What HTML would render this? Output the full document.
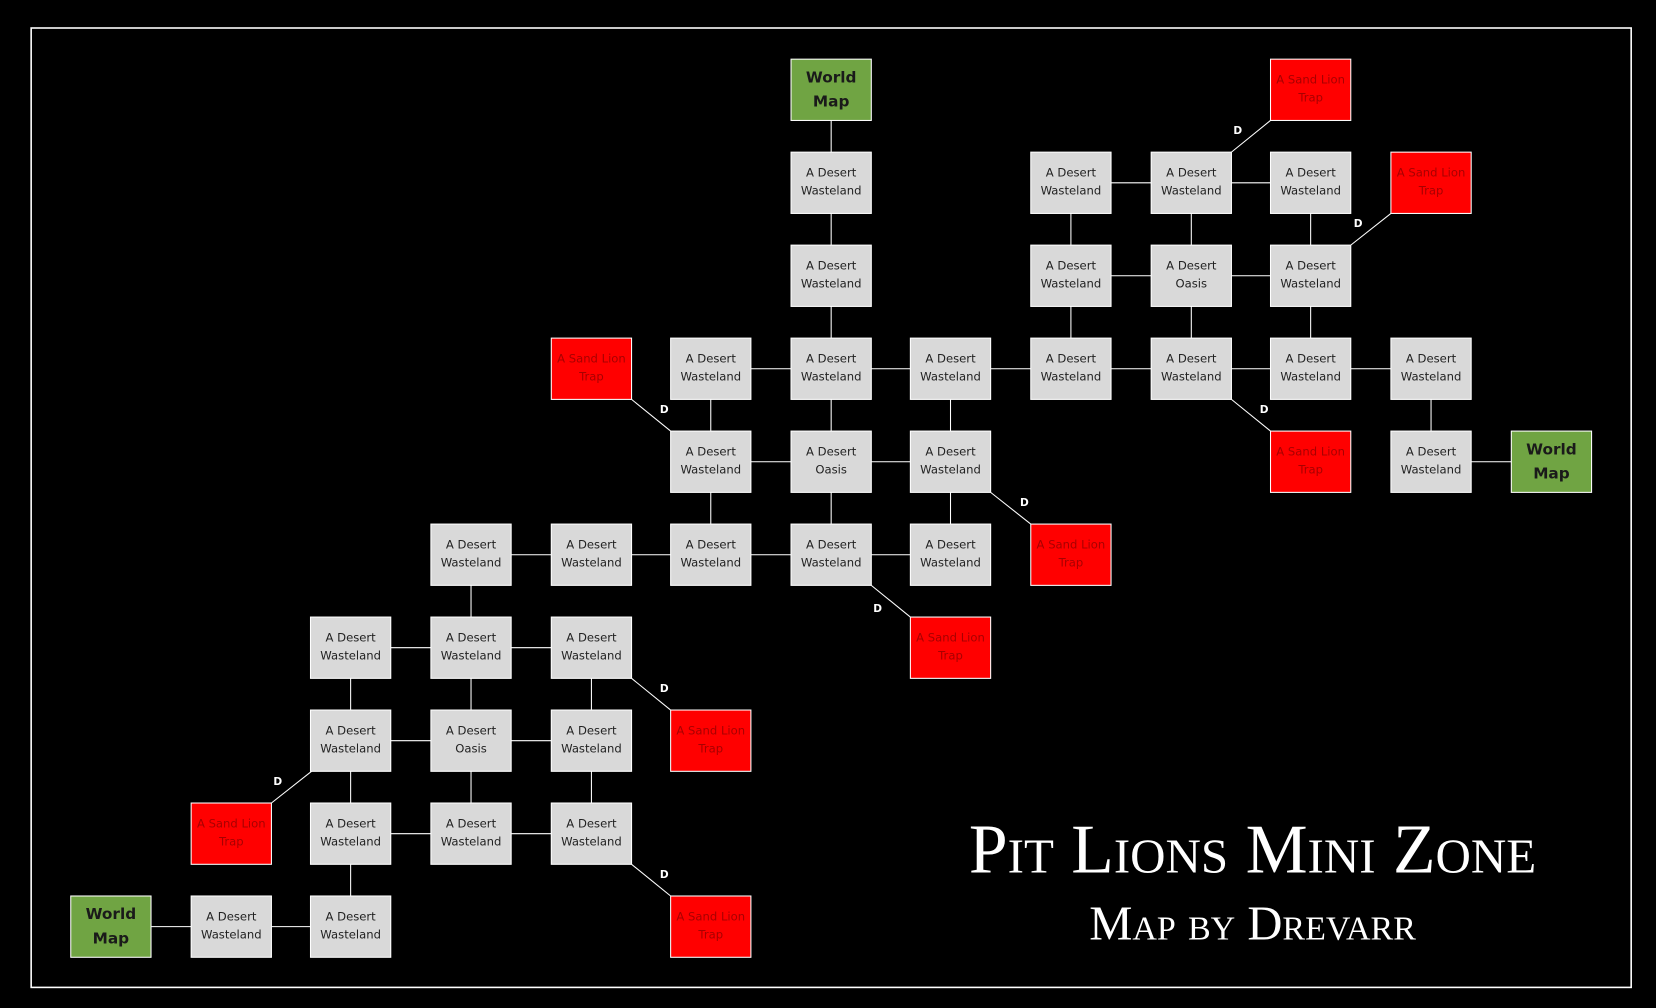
<!DOCTYPE html>
<html><head><meta charset="utf-8"><style>
html,body{margin:0;padding:0;background:#000;}
svg{display:block;}
.g rect{fill:#d9d9d9;stroke:#fff;stroke-width:1}
.t rect{fill:#ff0000;stroke:#fff;stroke-width:1}
.w rect{fill:#70a443;stroke:#fff;stroke-width:1}
text{font-family:"DejaVu Sans","Liberation Sans",sans-serif;text-anchor:middle}
.g text{font-size:11px;fill:#222}
.t text{font-size:11px;fill:#a80000}
.w text{font-size:14.5px;font-weight:bold;fill:#1a1a1a}
.d{font-size:10px;font-weight:bold;fill:#fff}
line{stroke:#fff;stroke-width:1}
</style></head><body>
<svg width="1656" height="1008" viewBox="0 0 1568 954" preserveAspectRatio="none" xmlns="http://www.w3.org/2000/svg">
<rect x="0" y="0" width="1568" height="954" fill="#000"/>
<rect x="29.5" y="26.5" width="1515" height="908" fill="none" stroke="#fff" stroke-width="1.5"/>
<line x1="787" y1="85" x2="787" y2="525"/>
<line x1="1014" y1="173" x2="1014" y2="349"/>
<line x1="1128" y1="173" x2="1128" y2="349"/>
<line x1="1241" y1="173" x2="1241" y2="349"/>
<line x1="673" y1="349" x2="673" y2="525"/>
<line x1="900" y1="349" x2="900" y2="525"/>
<line x1="1355" y1="349" x2="1355" y2="437"/>
<line x1="446" y1="525" x2="446" y2="789"/>
<line x1="332" y1="613" x2="332" y2="877"/>
<line x1="560" y1="613" x2="560" y2="789"/>
<line x1="1014" y1="173" x2="1241" y2="173"/>
<line x1="1014" y1="261" x2="1241" y2="261"/>
<line x1="673" y1="349" x2="1355" y2="349"/>
<line x1="673" y1="437" x2="900" y2="437"/>
<line x1="1355" y1="437" x2="1469" y2="437"/>
<line x1="446" y1="525" x2="900" y2="525"/>
<line x1="332" y1="613" x2="560" y2="613"/>
<line x1="332" y1="701" x2="560" y2="701"/>
<line x1="332" y1="789" x2="560" y2="789"/>
<line x1="105" y1="877" x2="332" y2="877"/>
<line x1="1166" y1="144" x2="1203" y2="114"/>
<line x1="1279" y1="232" x2="1317" y2="202"/>
<line x1="1166" y1="378" x2="1203" y2="408"/>
<line x1="598" y1="378" x2="635" y2="408"/>
<line x1="938" y1="466" x2="976" y2="496"/>
<line x1="825" y1="554" x2="862" y2="584"/>
<line x1="598" y1="642" x2="635" y2="672"/>
<line x1="295" y1="730" x2="257" y2="760"/>
<line x1="598" y1="818" x2="635" y2="848"/>
<text class="d" x="1172" y="127">D</text>
<text class="d" x="1286" y="215">D</text>
<text class="d" x="1197" y="391">D</text>
<text class="d" x="629" y="391">D</text>
<text class="d" x="970" y="479">D</text>
<text class="d" x="831" y="579">D</text>
<text class="d" x="629" y="655">D</text>
<text class="d" x="263" y="743">D</text>
<text class="d" x="629" y="831">D</text>
<g class="g">
<rect x="749" y="144" width="76" height="58"/><text x="787" y="167">A Desert</text><text x="787" y="184">Wasteland</text>
<rect x="976" y="144" width="76" height="58"/><text x="1014" y="167">A Desert</text><text x="1014" y="184">Wasteland</text>
<rect x="1090" y="144" width="76" height="58"/><text x="1128" y="167">A Desert</text><text x="1128" y="184">Wasteland</text>
<rect x="1203" y="144" width="76" height="58"/><text x="1241" y="167">A Desert</text><text x="1241" y="184">Wasteland</text>
<rect x="749" y="232" width="76" height="58"/><text x="787" y="255">A Desert</text><text x="787" y="272">Wasteland</text>
<rect x="976" y="232" width="76" height="58"/><text x="1014" y="255">A Desert</text><text x="1014" y="272">Wasteland</text>
<rect x="1090" y="232" width="76" height="58"/><text x="1128" y="255">A Desert</text><text x="1128" y="272">Oasis</text>
<rect x="1203" y="232" width="76" height="58"/><text x="1241" y="255">A Desert</text><text x="1241" y="272">Wasteland</text>
<rect x="635" y="320" width="76" height="58"/><text x="673" y="343">A Desert</text><text x="673" y="360">Wasteland</text>
<rect x="749" y="320" width="76" height="58"/><text x="787" y="343">A Desert</text><text x="787" y="360">Wasteland</text>
<rect x="862" y="320" width="76" height="58"/><text x="900" y="343">A Desert</text><text x="900" y="360">Wasteland</text>
<rect x="976" y="320" width="76" height="58"/><text x="1014" y="343">A Desert</text><text x="1014" y="360">Wasteland</text>
<rect x="1090" y="320" width="76" height="58"/><text x="1128" y="343">A Desert</text><text x="1128" y="360">Wasteland</text>
<rect x="1203" y="320" width="76" height="58"/><text x="1241" y="343">A Desert</text><text x="1241" y="360">Wasteland</text>
<rect x="1317" y="320" width="76" height="58"/><text x="1355" y="343">A Desert</text><text x="1355" y="360">Wasteland</text>
<rect x="635" y="408" width="76" height="58"/><text x="673" y="431">A Desert</text><text x="673" y="448">Wasteland</text>
<rect x="749" y="408" width="76" height="58"/><text x="787" y="431">A Desert</text><text x="787" y="448">Oasis</text>
<rect x="862" y="408" width="76" height="58"/><text x="900" y="431">A Desert</text><text x="900" y="448">Wasteland</text>
<rect x="1317" y="408" width="76" height="58"/><text x="1355" y="431">A Desert</text><text x="1355" y="448">Wasteland</text>
<rect x="408" y="496" width="76" height="58"/><text x="446" y="519">A Desert</text><text x="446" y="536">Wasteland</text>
<rect x="522" y="496" width="76" height="58"/><text x="560" y="519">A Desert</text><text x="560" y="536">Wasteland</text>
<rect x="635" y="496" width="76" height="58"/><text x="673" y="519">A Desert</text><text x="673" y="536">Wasteland</text>
<rect x="749" y="496" width="76" height="58"/><text x="787" y="519">A Desert</text><text x="787" y="536">Wasteland</text>
<rect x="862" y="496" width="76" height="58"/><text x="900" y="519">A Desert</text><text x="900" y="536">Wasteland</text>
<rect x="294" y="584" width="76" height="58"/><text x="332" y="607">A Desert</text><text x="332" y="624">Wasteland</text>
<rect x="408" y="584" width="76" height="58"/><text x="446" y="607">A Desert</text><text x="446" y="624">Wasteland</text>
<rect x="522" y="584" width="76" height="58"/><text x="560" y="607">A Desert</text><text x="560" y="624">Wasteland</text>
<rect x="294" y="672" width="76" height="58"/><text x="332" y="695">A Desert</text><text x="332" y="712">Wasteland</text>
<rect x="408" y="672" width="76" height="58"/><text x="446" y="695">A Desert</text><text x="446" y="712">Oasis</text>
<rect x="522" y="672" width="76" height="58"/><text x="560" y="695">A Desert</text><text x="560" y="712">Wasteland</text>
<rect x="294" y="760" width="76" height="58"/><text x="332" y="783">A Desert</text><text x="332" y="800">Wasteland</text>
<rect x="408" y="760" width="76" height="58"/><text x="446" y="783">A Desert</text><text x="446" y="800">Wasteland</text>
<rect x="522" y="760" width="76" height="58"/><text x="560" y="783">A Desert</text><text x="560" y="800">Wasteland</text>
<rect x="181" y="848" width="76" height="58"/><text x="219" y="871">A Desert</text><text x="219" y="888">Wasteland</text>
<rect x="294" y="848" width="76" height="58"/><text x="332" y="871">A Desert</text><text x="332" y="888">Wasteland</text>
</g>
<g class="t">
<rect x="1203" y="56" width="76" height="58"/><text x="1241" y="79">A Sand Lion</text><text x="1241" y="96">Trap</text>
<rect x="1317" y="144" width="76" height="58"/><text x="1355" y="167">A Sand Lion</text><text x="1355" y="184">Trap</text>
<rect x="522" y="320" width="76" height="58"/><text x="560" y="343">A Sand Lion</text><text x="560" y="360">Trap</text>
<rect x="1203" y="408" width="76" height="58"/><text x="1241" y="431">A Sand Lion</text><text x="1241" y="448">Trap</text>
<rect x="976" y="496" width="76" height="58"/><text x="1014" y="519">A Sand Lion</text><text x="1014" y="536">Trap</text>
<rect x="862" y="584" width="76" height="58"/><text x="900" y="607">A Sand Lion</text><text x="900" y="624">Trap</text>
<rect x="635" y="672" width="76" height="58"/><text x="673" y="695">A Sand Lion</text><text x="673" y="712">Trap</text>
<rect x="181" y="760" width="76" height="58"/><text x="219" y="783">A Sand Lion</text><text x="219" y="800">Trap</text>
<rect x="635" y="848" width="76" height="58"/><text x="673" y="871">A Sand Lion</text><text x="673" y="888">Trap</text>
</g>
<g class="w">
<rect x="749" y="56" width="76" height="58"/><text x="787" y="78">World</text><text x="787" y="101">Map</text>
<rect x="1431" y="408" width="76" height="58"/><text x="1469" y="430">World</text><text x="1469" y="453">Map</text>
<rect x="67" y="848" width="76" height="58"/><text x="105" y="870">World</text><text x="105" y="893">Map</text>
</g>
<text x="1186" y="826" style="font-family:'Liberation Serif',serif;font-variant:small-caps;font-size:66px;fill:#fff">Pit Lions Mini Zone</text>
<text x="1186" y="889" style="font-family:'Liberation Serif',serif;font-variant:small-caps;font-size:46px;fill:#fff">Map by Drevarr</text>
</svg>
</body></html>
